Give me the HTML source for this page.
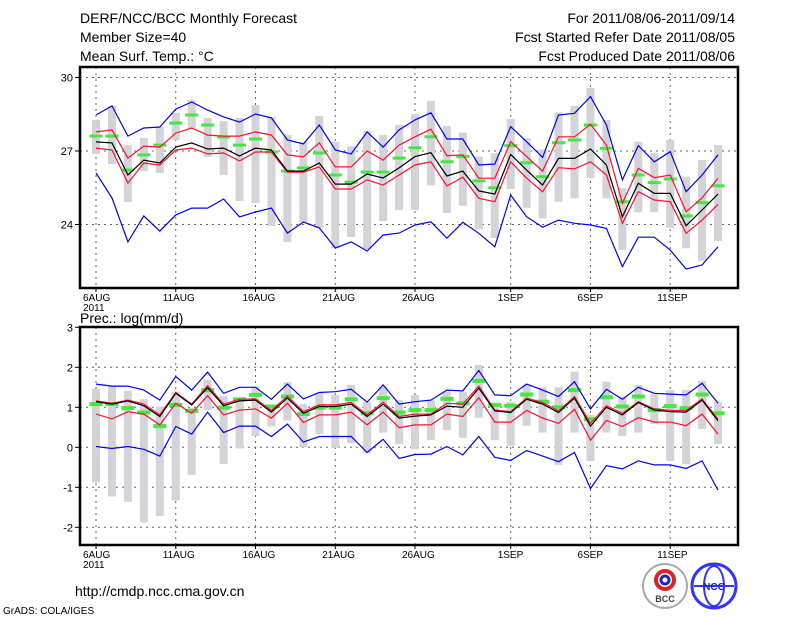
<!DOCTYPE html>
<html><head><meta charset="utf-8"><style>
html,body{margin:0;padding:0;background:#fff;}
svg{display:block;font-family:"Liberation Sans",sans-serif;}
</style></head><body>
<svg id="c" width="800" height="618" viewBox="0 0 800 618">
<g font-size="14" fill="#000">
<text x="80" y="23">DERF/NCC/BCC Monthly Forecast</text>
<text x="80" y="42">Member Size=40</text>
<text x="80" y="61">Mean Surf. Temp.: °C</text>
<text x="735" y="23" text-anchor="end">For 2011/08/06-2011/09/14</text>
<text x="735" y="42" text-anchor="end">Fcst Started Refer Date 2011/08/05</text>
<text x="735" y="61" text-anchor="end">Fcst Produced Date 2011/08/06</text>
<text x="80" y="323">Prec.: log(mm/d)</text>
</g>
<text x="75" y="596" font-size="14">http://cmdp.ncc.cma.gov.cn</text>
<text x="3" y="614" font-size="10">GrADS: COLA/IGES</text>
<g>
<circle cx="665" cy="586" r="22" fill="#fff" stroke="#aaa" stroke-width="2"/>
<circle cx="665" cy="580" r="9" fill="none" stroke="#d22" stroke-width="4"/>
<circle cx="665" cy="580" r="4" fill="none" stroke="#22c" stroke-width="3"/>
<text x="665" y="602" font-size="9" text-anchor="middle" font-weight="bold" fill="#444">BCC</text>
</g>
<g>
<circle cx="714" cy="586" r="22" fill="#fff" stroke="#33f" stroke-width="3"/>
<ellipse cx="714" cy="586" rx="10" ry="20" fill="none" stroke="#33f" stroke-width="2"/>
<line x1="694" y1="586" x2="734" y2="586" stroke="#33f" stroke-width="2"/>
<text x="714" y="590" font-size="10" text-anchor="middle" font-weight="bold" fill="#22c">NCC</text>
</g>
<g id="top"></g>
<g id="bot"></g>
</svg>
<script>
const days = ["6AUG","","","","","11AUG","","","","","16AUG","","","","","21AUG","","","","","26AUG","","","","","","1SEP","","","","","6SEP","","","","","11SEP","","",""];
// Temperature (°C)
const tBlueHi=[28.47,28.84,27.61,27.94,27.98,28.71,29.0,28.67,28.39,28.18,28.51,28.35,27.45,27.29,28.06,27.04,26.88,27.78,27.16,27.86,28.27,28.56,27.49,27.49,26.43,26.47,27.99,27.38,26.74,28.47,28.54,29.22,28.06,25.82,27.22,26.56,26.97,25.34,26.02,26.84];
const tBlueLo=[26.1,25.08,23.29,24.35,23.73,24.39,24.67,24.67,25.04,24.31,24.51,24.67,23.65,24.1,23.86,23.04,23.29,22.92,23.57,23.65,23.98,24.11,23.44,24.09,23.64,23.09,25.2,24.32,23.89,24.18,24.05,23.98,23.84,22.28,23.48,23.48,22.96,22.18,22.35,23.09];
const tRedHi=[27.78,27.86,26.71,27.2,27.16,27.73,27.94,27.65,27.61,27.61,27.78,27.65,26.84,26.76,27.33,26.35,26.35,27.0,26.63,27.24,27.58,27.89,26.81,26.84,25.89,25.89,27.38,26.77,26.18,27.58,27.58,28.09,27.24,24.87,26.29,25.91,26.02,24.52,25.09,25.89];
const tMean=[27.37,27.33,26.02,26.63,26.51,27.16,27.33,27.08,27.12,26.8,27.12,27.04,26.18,26.18,26.51,25.65,25.65,26.06,25.9,26.31,26.77,26.93,25.98,26.18,25.37,25.24,26.86,26.22,25.61,26.7,26.7,27.08,26.43,24.32,25.68,25.27,25.27,23.95,24.59,25.24];
const tRedLo=[27.12,27.04,25.69,26.51,26.43,27.04,27.12,26.88,26.92,26.59,26.96,26.96,26.14,26.14,26.35,25.45,25.45,25.82,25.61,26.02,26.43,26.56,25.57,25.93,25.07,24.93,26.56,25.89,25.34,26.32,26.27,26.56,26.02,24.05,25.34,25.0,24.93,23.64,24.18,24.82];
const tGreen=[27.61,27.61,26.22,26.84,27.24,28.14,28.47,28.06,27.57,27.24,27.49,26.96,26.18,26.31,26.92,26.02,25.73,26.14,26.14,26.71,27.13,27.58,26.56,26.77,25.78,25.5,27.22,26.52,25.95,27.34,27.45,28.06,27.11,24.93,26.02,25.71,25.86,24.35,24.89,25.58];
const tBarHi=[28.27,28.84,27.24,27.53,27.98,28.55,29.08,28.35,28.22,28.35,28.88,28.39,27.65,27.37,28.43,27.37,27.2,27.82,27.65,28.06,28.5,29.04,28.02,27.75,26.77,26.91,28.31,27.52,27.07,28.58,28.84,29.58,28.27,25.48,27.38,26.91,27.45,25.95,26.63,27.24];
const tBarLo=[26.88,26.47,24.92,26.18,26.1,27.45,27.94,26.76,26.02,24.96,24.88,23.94,23.29,24.1,23.86,23.04,23.49,23.0,24.14,24.59,24.59,25.6,24.47,24.77,23.8,23.45,25.45,24.68,24.25,24.93,25.07,25.9,25.07,22.96,24.5,24.5,23.87,23.03,22.52,23.33];
const tTicks=[24,27,30];
// Precipitation log(mm/d)
const pBlueHi=[1.58,1.53,1.53,1.43,1.18,1.77,1.43,1.88,1.35,1.5,1.5,1.2,1.58,1.21,1.37,1.39,1.45,1.13,1.56,1.08,1.14,1.18,1.43,1.41,1.92,1.31,1.29,1.58,1.43,1.27,1.64,0.96,1.45,1.2,1.5,1.35,1.33,1.31,1.6,1.1];
const pBlueLo=[0.02,-0.03,0.02,-0.05,-0.22,0.52,0.33,0.88,0.37,0.53,0.53,0.27,0.58,0.13,0.27,0.27,0.27,-0.13,0.2,-0.28,-0.18,-0.17,0.02,-0.19,0.27,-0.25,-0.33,-0.08,-0.22,-0.36,-0.13,-1.03,-0.46,-0.54,-0.34,-0.44,-0.44,-0.53,-0.34,-1.07];
const pRedHi=[1.16,1.1,1.18,1.08,0.81,1.37,1.08,1.54,1.08,1.2,1.21,0.92,1.28,0.89,1.06,1.06,1.12,0.81,1.13,0.77,0.83,0.83,1.1,1.08,1.53,0.93,0.89,1.23,1.12,0.91,1.27,0.6,1.04,0.85,1.14,0.96,0.92,0.92,1.21,0.7];
const pMean=[1.14,1.08,1.16,1.04,0.77,1.35,1.06,1.49,1.04,1.16,1.18,0.88,1.23,0.85,1.02,1.02,1.08,0.77,1.08,0.73,0.78,0.81,1.03,1.0,1.48,0.91,0.87,1.2,1.08,0.87,1.23,0.53,1.0,0.81,1.12,0.93,0.89,0.88,1.18,0.66];
const pRedLo=[0.83,0.71,0.89,0.83,0.56,1.1,0.85,1.29,0.81,0.93,0.96,0.73,1.1,0.62,0.81,0.81,0.88,0.56,0.88,0.49,0.56,0.56,0.83,0.77,1.24,0.63,0.63,0.92,0.73,0.6,0.95,0.18,0.67,0.52,0.74,0.63,0.63,0.54,0.83,0.33];
const pGreen=[1.08,1.08,0.98,0.87,0.53,1.06,0.91,1.43,0.99,1.2,1.31,1.02,1.27,0.83,0.99,0.99,1.2,0.85,1.23,0.87,0.93,0.93,1.21,1.1,1.66,1.06,1.04,1.32,1.14,1.0,1.43,0.7,1.25,1.02,1.27,0.93,1.03,0.98,1.32,0.85];
const pBarHi=[1.46,1.52,1.41,1.2,1.02,1.39,0.98,1.69,1.28,1.24,1.52,1.06,1.63,1.08,1.35,1.31,1.56,1.13,1.52,1.18,1.31,1.18,1.39,1.39,2.06,1.1,1.14,1.56,1.5,1.5,1.89,0.81,1.64,1.27,1.56,1.33,1.43,1.43,1.66,1.13];
const pBarLo=[-0.88,-1.23,-1.36,-1.88,-1.72,-1.33,-0.69,0.93,-0.42,-0.03,0.28,0.52,0.67,0.0,0.33,-0.01,0.1,-0.15,0.37,0.08,-0.05,0.18,0.43,0.24,0.74,0.18,0.04,0.54,0.37,-0.44,0.37,-0.34,0.37,0.28,0.37,0.58,-0.34,-0.42,0.46,0.08];
const pTicks=[-2,-1,0,1,2,3];

const NS="http://www.w3.org/2000/svg";
function mk(parent,tag,attrs){const e=document.createElementNS(NS,tag);for(const k in attrs)e.setAttribute(k,attrs[k]);parent.appendChild(e);return e;}
const X0=80,X1=738;
function xd(i){return 96+i*15.95;}

function panel(g,cfg){
  const {top,bottom,yv,ticks,series,barHi,barLo,green,prefix,barW,greenH}=cfg;
  ticks.forEach(t=>{const y=yv(t);
    const gl=mk(g,'line',{x1:X0,x2:X1,y1:y,y2:y,stroke:'#666','stroke-dasharray':'2,4','stroke-width':1});
    
    
    const tk=mk(g,'line',{x1:X0-5,x2:X0,y1:y,y2:y,stroke:'#000'});
    
    
    const tx=mk(g,'text',{x:X0-7,y:y+4,'text-anchor':'end','font-size':11});
    tx.textContent=String(t);
    
    
  });
  days.forEach((d,i)=>{if(!d)return;const x=xd(i);
    const gl=mk(g,'line',{x1:x,x2:x,y1:top,y2:bottom,stroke:'#666','stroke-dasharray':'2,4'});
    
    
    const tk=mk(g,'line',{x1:x,x2:x,y1:bottom,y2:bottom+4,stroke:'#000'});
    
    
    const tx=mk(g,'text',{x:x-13,y:bottom+13,'font-size':10});
    tx.textContent=d;
    
    
  });
  const yr=mk(g,'text',{x:xd(0)-13,y:bottom+23,'font-size':10});
  yr.textContent='2011';
  
  
  barHi.forEach((v,i)=>{const y1=yv(v),y2=yv(barLo[i]);
    const r=mk(g,'rect',{x:xd(i)-barW/2,y:y1,width:barW,height:Math.max(1,y2-y1),fill:'#d3d3d8'});
    
    
  });
  green.forEach((v,i)=>{
    const r=mk(g,'rect',{x:xd(i)-6.5,y:yv(v)-greenH/2,width:13,height:greenH,fill:'#44e844'});
    
    
  });
  series.forEach(s=>{
    const pts=s.data.map((v,i)=>xd(i).toFixed(1)+','+yv(v).toFixed(1)).join(' ');
    const p=mk(g,'polyline',{points:pts,fill:'none',stroke:s.color,'stroke-width':1.2});
    
    
  });
  const f=mk(g,'rect',{x:X0,y:top,width:X1-X0,height:bottom-top,fill:'none',stroke:'#000','stroke-width':2.5});
  
  
}
function yT(v){return 151-(v-27)*24.5;}
function yP(v){return 447.3-v*40;}
panel(document.getElementById('top'),{top:67,bottom:288,yv:yT,ticks:tTicks,prefix:'temp',barW:8,greenH:3,
  barHi:tBarHi,barLo:tBarLo,green:tGreen,
  series:[{name:'max-line',data:tBlueHi,color:'#0000ff'},{name:'min-line',data:tBlueLo,color:'#0000ff'},
          {name:'upper-line',data:tRedHi,color:'#ff1030'},{name:'lower-line',data:tRedLo,color:'#ff1030'},
          {name:'mean-line',data:tMean,color:'#000'}]});
panel(document.getElementById('bot'),{top:327,bottom:545,yv:yP,ticks:pTicks,prefix:'prec',barW:8,greenH:4,
  barHi:pBarHi,barLo:pBarLo,green:pGreen,
  series:[{name:'max-line',data:pBlueHi,color:'#0000ff'},{name:'min-line',data:pBlueLo,color:'#0000ff'},
          {name:'upper-line',data:pRedHi,color:'#ff1030'},{name:'lower-line',data:pRedLo,color:'#ff1030'},
          {name:'mean-line',data:pMean,color:'#000'}]});
</script>
</body></html>
